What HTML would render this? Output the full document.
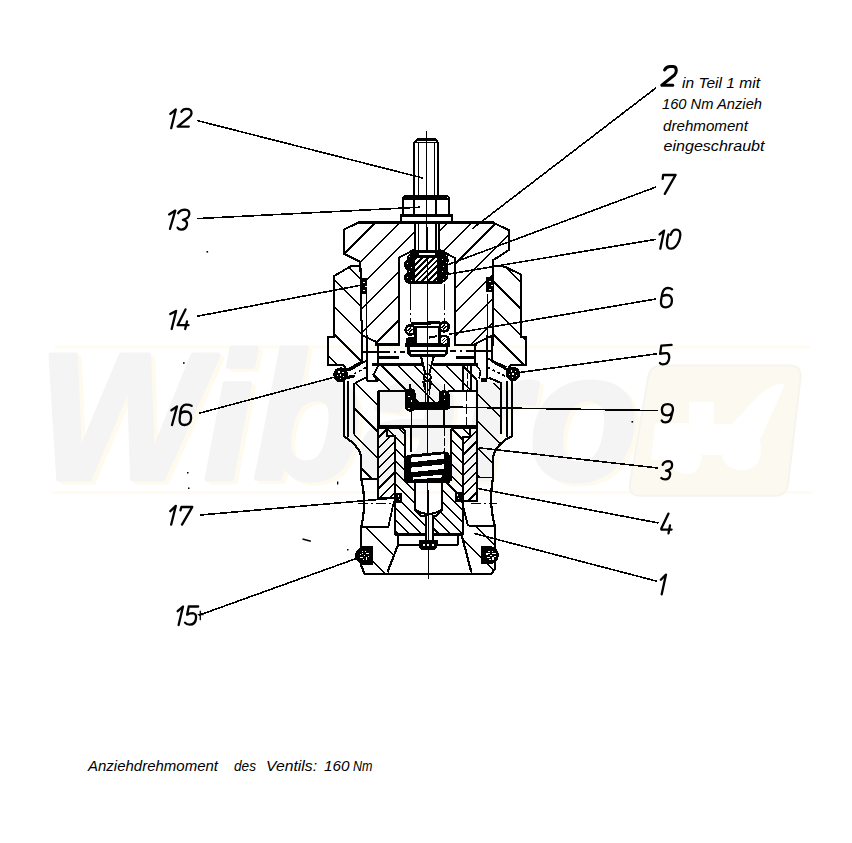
<!DOCTYPE html>
<html><head><meta charset="utf-8"><style>
html,body{margin:0;padding:0;background:#fff;width:852px;height:843px;overflow:hidden}
svg{display:block}
.t{font-family:"Liberation Sans",sans-serif;font-style:italic;fill:#000}
</style></head><body>
<svg width="852" height="843" viewBox="0 0 852 843">
<defs><clipPath id="c1"><path d="M414.9,222.8 L357.9,222.8 L343.6,229.7 L343.6,253.6 L360.4,262.0 L361.8,335.0 L376.2,341.9 L376.2,344.6 L398.9,344.6 L398.9,257.7 L414.9,249.3 Z"/></clipPath>
<clipPath id="c2"><path d="M438.8,222.8 L493.5,222.8 L509.0,230.2 L509.0,250.0 L493.4,260.0 L493.4,335.0 L475.8,343.6 L475.8,344.6 L455.2,344.6 L455.2,258.2 L438.8,249.3 Z"/></clipPath>
<clipPath id="c3"><path d="M360.4,266.2 L350.8,266.2 L334.2,276.0 L334.2,337.2 L327.6,337.2 L327.6,365.4 L343.3,365.4 L347.0,369.8 L362.0,361.5 L362.0,352.0 L361.8,335.0 Z"/></clipPath>
<clipPath id="c4"><path d="M493.4,266.0 L504.5,266.6 L520.6,274.3 L520.6,337.0 L525.6,337.0 L525.6,365.4 L510.6,365.4 L507.0,369.8 L492.0,361.5 L492.0,352.0 L493.4,335.0 Z"/></clipPath>
<clipPath id="c5"><path d="M414.8,257.9 L437.4,257.9 L437.4,281.2 L414.8,281.2 Z"/></clipPath>
<clipPath id="c6"><path d="M373.0,375.5 L379.0,364.6 L477.0,364.6 L477.0,391.0 L448.0,391.0 L438.0,403.0 L416.0,403.0 L406.0,391.0 L378.4,391.0 L378.4,381.4 Z"/></clipPath>
<clipPath id="c7"><path d="M353.8,383.0 L378.4,383.0 L378.4,478.8 L361.3,478.8 L361.3,461.7 L358.5,449.6 L353.8,440.0 Z"/></clipPath>
<clipPath id="c8"><path d="M500.9,383.0 L476.9,383.0 L476.9,477.4 L493.0,477.4 L493.0,461.0 L496.0,449.0 L500.9,442.0 Z"/></clipPath>
<clipPath id="c9"><path d="M378.4,427.7 L386.5,427.7 L386.5,435.6 L394.9,435.6 L394.9,498.3 L378.4,498.3 Z"/></clipPath>
<clipPath id="c10"><path d="M477.1,427.7 L470.2,427.7 L470.2,436.6 L462.5,436.6 L462.5,501.2 L477.1,501.2 Z"/></clipPath>
<clipPath id="c11"><path d="M386.5,427.7 L402.0,427.7 L405.0,431.3 L405.0,480.0 L414.9,480.0 L414.9,509.7 L421.0,516.0 L425.6,516.0 L425.6,534.4 L394.9,534.4 L394.9,435.6 L386.5,435.6 Z"/></clipPath>
<clipPath id="c12"><path d="M470.2,427.7 L453.0,427.7 L450.7,431.0 L450.7,480.0 L442.0,480.0 L442.0,509.7 L436.0,516.0 L432.7,516.0 L432.7,534.4 L462.5,534.4 L462.5,436.6 L470.2,436.6 Z"/></clipPath>
<clipPath id="c13"><path d="M361.3,527.2 L388.4,527.2 L398.0,545.0 L387.4,573.6 L364.5,573.6 L361.3,566.0 Z"/></clipPath>
<clipPath id="c14"><path d="M494.8,526.2 L468.6,526.2 L461.6,535.0 L471.3,573.6 L491.4,573.6 L494.8,569.0 Z"/></clipPath></defs>
<rect width="852" height="843" fill="#fff"/>
<g id="wm">
<rect x="55" y="345.5" width="755" height="3" fill="#FFFBF0"/>
<rect x="52" y="491" width="760" height="3" fill="#FFFBF0"/>
<path d="M662,365.6 H790 Q802,366 800.5,378 L788,484 Q786.5,495.8 774,495.8 H641 Q628.5,495.8 630,484 L648,378 Q650,365.6 662,365.6 Z" fill="#FCF9F0" stroke="#F6F4EE" stroke-width="2"/>
<path d="M689,402 H714 V424 H732 L760,394 Q775,382 785,384 L760,440 Q765,470 742,470 Q725,470 722,455 H702 Q700,474 688,474 Q672,474 670,460 H651 L655,423 H689 Z" fill="#FFFFFF"/>
<text x="42" y="482" textLength="600" lengthAdjust="spacingAndGlyphs" font-family="Liberation Sans" font-weight="bold" font-style="italic" font-size="180" fill="#FFFAEE" stroke="#FFFAEE" stroke-width="5" stroke-linejoin="round">Wibaro</text>
<text x="38" y="479" textLength="600" lengthAdjust="spacingAndGlyphs" font-family="Liberation Sans" font-weight="bold" font-style="italic" font-size="180" fill="#F4F4F4" stroke="#F4F4F4" stroke-width="5" stroke-linejoin="round">Wibaro</text>
</g>
<!-- labels -->

<g class="t" font-size="14">
<text x="682" y="87.6" textLength="78" lengthAdjust="spacingAndGlyphs">in Teil 1 mit</text>
<text x="662" y="108.7" textLength="100" lengthAdjust="spacingAndGlyphs">160 Nm Anzieh</text>
<text x="663" y="131" textLength="85" lengthAdjust="spacingAndGlyphs">drehmoment</text>
<text x="663.5" y="151" textLength="101" lengthAdjust="spacingAndGlyphs">eingeschraubt</text>
<text x="88" y="770.5" textLength="130" lengthAdjust="spacingAndGlyphs">Anziehdrehmoment</text>
<text x="234" y="770.5" textLength="22" lengthAdjust="spacingAndGlyphs">des</text>
<text x="266" y="770.5" textLength="51" lengthAdjust="spacingAndGlyphs">Ventils:</text>
<text x="324" y="770.5" textLength="25.5" lengthAdjust="spacingAndGlyphs">160</text>
<text x="353" y="770.5" textLength="19.5" lengthAdjust="spacingAndGlyphs">Nm</text>
</g>
<!-- leaders -->
<g stroke="#000" fill="none" stroke-width="1.6" shape-rendering="crispEdges">
<path d="M197,120.5 L422.7,178"/>
<path d="M197,218.6 L420.3,207.2"/>
<path d="M197,316.3 L362,285"/>
<path d="M199.3,413.2 L335.4,376.9"/>
<path d="M200.3,515 L395,498"/>
<path d="M199,615.2 L356.6,558.4"/>
<path d="M656.3,87.6 L472.3,228.7"/>
<path d="M656,187 L447,265"/>
<path d="M656,239.3 L449,274"/>
<path d="M656,299 L449,334.2"/><path d="M437,336.2 L429.4,337.6"/>
<path d="M656.9,353.8 L518.7,372.6"/>
<path d="M658,410.6 L415,406.5"/>
<path d="M658,468 L478.7,447.8"/>
<path d="M658.6,523 L476.9,488.3"/>
<path d="M657.2,581.3 L474,533.4"/>
</g>
<g fill="#000">
<rect x="206.5" y="251" width="1.6" height="1.6"/>
<rect x="183" y="362.2" width="1.6" height="1.6"/>
<rect x="187" y="472" width="1.5" height="1.5"/>
<rect x="188" y="487.5" width="1.5" height="1.5"/>
<path d="M302.5,539 L310.8,541.2" stroke="#000" stroke-width="1.4"/>
<rect x="347" y="549" width="1.5" height="1.5"/>
<rect x="337" y="481.5" width="1.3" height="3"/>
<rect x="631.5" y="421" width="1.6" height="1.6"/>
</g>
<g stroke="#000" fill="none" stroke-width="2.3" stroke-linecap="round" stroke-linejoin="round">
<!-- 12 -->
<path d="M170.3,113.8 L175.8,109.4 L171.2,128.2"/>
<path d="M181.4,111.7 Q183,108.8 186.4,108.8 Q191.9,108.8 191.5,113.5 Q191.2,115.5 189.5,117 L177.6,126.6 H188.8"/>
<!-- 13 -->
<path d="M169.1,214.4 L175.3,210.6 L170,228.8"/>
<path d="M178.2,213.2 Q180.5,209.7 185,209.7 Q189.6,209.9 189.3,214 Q189,218.5 182.9,219.8 Q187.5,220.5 187,224.5 Q186.2,229.6 181.1,229.6 Q178.7,229.6 177.6,227.6"/>
<!-- 14 -->
<path d="M170.3,314.1 L176.1,310.9 L171.7,329"/>
<path d="M185.5,309.4 L177.6,325.2 H188.5 M187,321.4 L185.2,329"/>
<!-- 16 -->
<path d="M171.4,410.3 L177,406.5 L172,425"/>
<path d="M191.7,405.9 Q189.5,404.5 185.8,404.7 Q181.5,405.5 180.6,411 L179.6,419 Q179.2,425 184.6,425 Q190.5,424.6 191.1,418.5 Q191.6,411.5 185,411.5 Q182,411.7 180.5,413.8"/>
<!-- 17 -->
<path d="M170.3,511.2 L175.8,505.9 L171.2,524.6"/>
<path d="M180.5,510.3 L181.4,507 H192.3 L182,524.6"/>
<!-- 15 -->
<path d="M177.7,611.2 L183,606.5 L178.6,625"/>
<path d="M198.2,606.5 H188.8 L187.1,614.7 Q189.5,613.2 192.6,613.2 Q196.6,613.6 196,618.5 Q195.3,624.6 189.8,624.6 Q186.5,624.6 185,622.6"/>
<path d="M200.3,611.2 V619.7 M198.2,614.7 H203.2" stroke-width="1.3"/>
<!-- 2 -->
<path d="M664.6,69.9 Q666.5,66.6 670,66.6 H673.3 Q676.3,66.8 676.3,70.8 Q676.3,73 674.5,75 L661.8,85.2 H672.8" stroke-width="3.0"/>
<!-- 7 -->
<path d="M662.7,178.9 L663.1,175 H675.6 L664.8,193.9"/>
<!-- 10 -->
<path d="M659.6,234.4 L664.1,230.6 L660.3,248.7"/>
<path d="M670.7,234.9 Q672.5,229.6 676.1,229.7 Q680.6,229.9 680.3,235 Q679.7,242 675.5,246.5 Q673.6,248.7 671.4,248.7 Q666.7,248.7 666.9,243.8 Q667,239 668.5,234.4"/>
<!-- 6 -->
<path d="M672.1,289.3 Q670.6,287.9 667.8,287.9 Q663.6,288.2 662.3,293.5 L661,300.8 Q660.3,307.4 665.8,307.4 Q671.8,307 671.9,300.8 Q672,295 666.9,295 Q664.8,295 663.6,295.8"/>
<!-- 5 -->
<path d="M671.6,344.9 L661.3,345.6 L660.1,353.8 Q663,353 667,353.1 Q669.5,353.8 669.2,358 Q668.6,364.4 662.7,364.4 Q660.7,364.4 659.9,363"/>
<!-- 9 -->
<path d="M673,410 Q673.2,404.1 667.6,404.1 Q662.3,404.1 661.9,409.5 Q661.9,415.4 667.3,415.4 Q671.5,415.4 673,410 L670.8,418.5 Q669.2,422.4 665.2,422.4 Q662.6,422.4 661.7,420.5"/>
<!-- 3 -->
<path d="M662.7,464.9 Q663.9,461.1 668.8,461.1 Q672.2,461.3 672.1,465.5 Q671.9,469.4 666,470.6 Q670.4,471 670.2,474.2 Q669.8,479.4 665,479.4 Q662.6,479.4 661.3,478"/>
<!-- 4 -->
<path d="M668.5,513.6 L661.3,528.5 V529.6 H671.6 M670,525.4 L668.5,533.4"/>
<!-- 1 -->
<path d="M660.8,579.7 L666,574.6 L661.7,594.3"/>
</g>

<g stroke-linecap="butt" shape-rendering="crispEdges">
<line x1="426.6" y1="131.5" x2="428.3" y2="579" stroke="#000" stroke-width="1.1" />
<path d="M414.3,195.5 V142.4 L418,138.6 H435 L437.9,142.4 V195.5" stroke="#000" stroke-width="2.0" fill="none" />
<rect x="417" y="137.8" width="19" height="3.2" fill="#000"/>
<line x1="416" y1="142.6" x2="436.5" y2="142.6" stroke="#000" stroke-width="1.2" />
<line x1="418.5" y1="142.6" x2="418.5" y2="195" stroke="#000" stroke-width="1.2" />
<line x1="434.8" y1="142.6" x2="434.8" y2="195" stroke="#000" stroke-width="1.2" />
<path d="M402.6,215 V199.8 Q402.6,196 406.6,195.6 H445.4 Q449.4,196 449.4,199.8 V215" stroke="#000" stroke-width="2.0" fill="none" />
<path d="M402.6,199.8 L406.4,195.2 H445.6 L449.4,199.8 Z" fill="#000"/>
<line x1="414.3" y1="197" x2="414.3" y2="215" stroke="#000" stroke-width="2.0" />
<line x1="435.8" y1="197" x2="435.8" y2="215" stroke="#000" stroke-width="2.0" />
<path d="M401.2,222 V215 H452.2 V222" stroke="#000" stroke-width="2.0" fill="none" />
<line x1="400.2" y1="215.4" x2="453" y2="215.4" stroke="#000" stroke-width="2.6" />
<line x1="357.9" y1="222.6" x2="493.5" y2="222.6" stroke="#000" stroke-width="3.0" />
<path clip-path="url(#c1)" d="M304.6,220.8 L178.8,346.6 M328.8,220.8 L203.0,346.6 M353.0,220.8 L227.2,346.6 M377.2,220.8 L251.4,346.6 M401.4,220.8 L275.6,346.6 M425.6,220.8 L299.8,346.6 M449.8,220.8 L324.0,346.6 M474.0,220.8 L348.2,346.6 M498.2,220.8 L372.4,346.6 M522.4,220.8 L396.6,346.6 M546.6,220.8 L420.8,346.6 M570.8,220.8 L445.0,346.6" stroke="#000" stroke-width="1.5" fill="none"/>
<path clip-path="url(#c2)" d="M401.4,220.8 L275.6,346.6 M425.6,220.8 L299.8,346.6 M449.8,220.8 L324.0,346.6 M474.0,220.8 L348.2,346.6 M498.2,220.8 L372.4,346.6 M522.4,220.8 L396.6,346.6 M546.6,220.8 L420.8,346.6 M570.8,220.8 L445.0,346.6 M595.0,220.8 L469.2,346.6 M619.2,220.8 L493.4,346.6 M643.4,220.8 L517.6,346.6 M667.6,220.8 L541.8,346.6" stroke="#000" stroke-width="1.5" fill="none"/>
<path d="M414.9,222.8 L357.9,222.8 L343.6,229.7 L343.6,253.6 L360.4,262.0 L361.8,335.0 L376.2,341.9 L376.2,344.6 L398.9,344.6 L398.9,257.7 L414.9,249.3 Z" stroke="#000" stroke-width="2.0" fill="none" />
<path d="M438.8,222.8 L493.5,222.8 L509.0,230.2 L509.0,250.0 L493.4,260.0 L493.4,335.0 L475.8,343.6 L475.8,344.6 L455.2,344.6 L455.2,258.2 L438.8,249.3 Z" stroke="#000" stroke-width="2.0" fill="none" />
<line x1="414.9" y1="222" x2="414.9" y2="250" stroke="#000" stroke-width="2.0" />
<line x1="438.8" y1="222" x2="438.8" y2="250" stroke="#000" stroke-width="2.0" />
<line x1="418.2" y1="222" x2="418.2" y2="250" stroke="#000" stroke-width="1.1" />
<line x1="436" y1="222" x2="436" y2="250" stroke="#000" stroke-width="1.1" />
<line x1="398.9" y1="344.6" x2="376" y2="344.6" stroke="#000" stroke-width="2.6" />
<line x1="455.2" y1="344.8" x2="476" y2="344.8" stroke="#000" stroke-width="2.6" />
<path clip-path="url(#c3)" d="M182.6,264.2 L290.2,371.8 M209.8,264.2 L317.4,371.8 M237.0,264.2 L344.6,371.8 M264.2,264.2 L371.8,371.8 M291.4,264.2 L399.0,371.8 M318.6,264.2 L426.2,371.8 M345.8,264.2 L453.4,371.8 M373.0,264.2 L480.6,371.8 M400.2,264.2 L507.8,371.8" stroke="#000" stroke-width="1.5" fill="none"/>
<path clip-path="url(#c4)" d="M343.5,264.0 L451.3,371.8 M370.0,264.0 L477.8,371.8 M396.5,264.0 L504.3,371.8 M423.0,264.0 L530.8,371.8 M449.5,264.0 L557.3,371.8 M476.0,264.0 L583.8,371.8 M502.5,264.0 L610.3,371.8 M529.0,264.0 L636.8,371.8 M555.5,264.0 L663.3,371.8" stroke="#000" stroke-width="1.5" fill="none"/>
<path d="M360.4,266.2 L350.8,266.2 L334.2,276.0 L334.2,337.2 L327.6,337.2 L327.6,365.4 L343.3,365.4 L347.0,369.8 L362.0,361.5 L362.0,352.0 L361.8,335.0 Z" stroke="#000" stroke-width="2.0" fill="none" />
<path d="M493.4,266.0 L504.5,266.6 L520.6,274.3 L520.6,337.0 L525.6,337.0 L525.6,365.4 L510.6,365.4 L507.0,369.8 L492.0,361.5 L492.0,352.0 L493.4,335.0 Z" stroke="#000" stroke-width="2.0" fill="none" />
<line x1="366.3" y1="294" x2="366.3" y2="352" stroke="#000" stroke-width="1.1" />
<line x1="487.8" y1="294" x2="487.8" y2="352" stroke="#000" stroke-width="1.1" />
<line x1="362" y1="335" x2="362" y2="352" stroke="#000" stroke-width="1.8" />
<line x1="492" y1="335" x2="492" y2="352" stroke="#000" stroke-width="1.8" />
<rect x="359.8" y="278" width="7.4" height="16.4" fill="#000"/>
<rect x="486" y="276.8" width="8.4" height="15.6" fill="#000"/>
<rect x="362.5" y="281.5" width="2" height="1.6" fill="#fff"/>
<rect x="364.5" y="285.5" width="2" height="1.6" fill="#fff"/>
<rect x="362.5" y="289.5" width="2" height="1.6" fill="#fff"/>
<rect x="489" y="280.5" width="2" height="1.6" fill="#fff"/>
<rect x="491" y="284.5" width="2" height="1.6" fill="#fff"/>
<rect x="489" y="288.5" width="2" height="1.6" fill="#fff"/>
<path d="M407,257 L413.6,250.2 H443.9 L448,255.5 V279 L441,284.4 H411 Q406.5,284 406.5,278 Z" fill="#000"/>
<circle cx="409.7" cy="265" r="5.8" fill="#000"/>
<circle cx="409.7" cy="278" r="5.8" fill="#000"/>
<circle cx="443.8" cy="260.8" r="5" fill="#000"/>
<circle cx="443.8" cy="273.2" r="5" fill="#000"/>
<rect x="418.7" y="253" width="16.2" height="1.8" fill="#fff"/>
<rect x="414.8" y="257.9" width="22.6" height="23.3" fill="#fff"/>
<path clip-path="url(#c5)" d="M406.8,255.9 L379.5,283.2 M412.6,255.9 L385.3,283.2 M418.4,255.9 L391.1,283.2 M424.2,255.9 L396.9,283.2 M430.0,255.9 L402.7,283.2 M435.8,255.9 L408.5,283.2 M441.6,255.9 L414.3,283.2 M447.4,255.9 L420.1,283.2 M453.2,255.9 L425.9,283.2 M459.0,255.9 L431.7,283.2 M464.8,255.9 L437.5,283.2 M470.6,255.9 L443.3,283.2 M476.4,255.9 L449.1,283.2" stroke="#000" stroke-width="2.1" fill="none"/>
<line x1="427.5" y1="256" x2="427.5" y2="282" stroke="#000" stroke-width="1.6" />
<rect x="407" y="263" width="1.3" height="1.3" fill="#fff"/>
<rect x="411" y="267" width="1.3" height="1.3" fill="#fff"/>
<rect x="408.5" y="270.5" width="1.3" height="1.3" fill="#fff"/>
<rect x="407" y="276.5" width="1.3" height="1.3" fill="#fff"/>
<rect x="411" y="280" width="1.3" height="1.3" fill="#fff"/>
<rect x="442" y="258.5" width="1.3" height="1.3" fill="#fff"/>
<rect x="446" y="262" width="1.3" height="1.3" fill="#fff"/>
<rect x="442.5" y="266" width="1.3" height="1.3" fill="#fff"/>
<rect x="442" y="271" width="1.3" height="1.3" fill="#fff"/>
<rect x="446" y="275" width="1.3" height="1.3" fill="#fff"/>
<rect x="442.5" y="279" width="1.3" height="1.3" fill="#fff"/>
<rect x="409" y="255.5" width="1.3" height="1.3" fill="#fff"/>
<rect x="446" y="254.8" width="1.3" height="1.3" fill="#fff"/>
<line x1="398.9" y1="257.7" x2="398.9" y2="345" stroke="#000" stroke-width="2.0" />
<line x1="455.2" y1="258.2" x2="455.2" y2="345" stroke="#000" stroke-width="2.0" />
<line x1="410.2" y1="284" x2="410.2" y2="322" stroke="#000" stroke-width="1.1" stroke-dasharray="26,3,2,3"/>
<line x1="444.5" y1="284" x2="444.5" y2="322" stroke="#000" stroke-width="1.1" stroke-dasharray="26,3,2,3"/>
<path d="M411,324 L440,322.4" stroke="#000" stroke-width="3.2"/>
<rect x="415.6" y="327" width="24" height="18" fill="none" stroke="#000" stroke-width="2.6"/>
<rect x="405" y="343.4" width="44.6" height="3.8" fill="#000"/>
<path d="M405.6,338 Q405,347 411,347 H416 V337 Z" fill="#000"/>
<circle cx="410.4" cy="341.8" r="4.8" fill="#000"/>
<circle cx="410.2" cy="330" r="4.6" stroke="#000" stroke-width="2.6" fill="#fff"/>
<path d="M407.7,331 L411.2,327.5 M409.2,332.5 L412.7,329" stroke="#000" stroke-width="1.1"/>
<circle cx="444.2" cy="326.8" r="4.6" stroke="#000" stroke-width="2.6" fill="#fff"/>
<path d="M441.7,327.8 L445.2,324.3 M443.2,329.3 L446.7,325.8" stroke="#000" stroke-width="1.1"/>
<circle cx="444.2" cy="340.4" r="4.6" stroke="#000" stroke-width="2.6" fill="#fff"/>
<path d="M441.7,341.4 L445.2,337.9 M443.2,342.9 L446.7,339.4" stroke="#000" stroke-width="1.1"/>
<path d="M429,337.6 L437,336.2" stroke="#000" stroke-width="2"/>
<path d="M407.2,345 H448.3 V353.5 L445.3,356.6 H410.2 L407.2,353.5 Z" fill="#000"/>
<rect x="409.6" y="347.3" width="36.4" height="2.4" fill="#fff"/>
<rect x="410.6" y="352.3" width="34.4" height="1.5" fill="#fff"/>
<line x1="427.3" y1="345" x2="427.3" y2="356" stroke="#000" stroke-width="1.2" />
<path d="M421,356.3 L425.4,374 M433.8,356.3 L429.2,374" stroke="#000" stroke-width="2.0" fill="none" />
<circle cx="427.3" cy="377.4" r="3.6" stroke="#000" stroke-width="2.0" fill="none"/>
<path d="M423,381 L425.6,391 M431.6,381 L429,391" stroke="#000" stroke-width="1.8" fill="none" />
<line x1="377" y1="357.6" x2="399" y2="357.6" stroke="#000" stroke-width="2.4" />
<line x1="455.5" y1="357.6" x2="475.5" y2="357.6" stroke="#000" stroke-width="2.4" />
<line x1="384" y1="352" x2="405" y2="352" stroke="#000" stroke-width="2.0" stroke-dasharray="6,4,2,4"/>
<line x1="450" y1="351.2" x2="470" y2="351.2" stroke="#000" stroke-width="2.0" stroke-dasharray="6,4,2,4"/>
<line x1="377.6" y1="343" x2="377.6" y2="365" stroke="#000" stroke-width="2.0" />
<line x1="475.4" y1="343" x2="475.4" y2="365" stroke="#000" stroke-width="2.0" />
<path clip-path="url(#c6)" d="M297.6,362.6 L340.0,405.0 M313.8,362.6 L356.2,405.0 M330.0,362.6 L372.4,405.0 M346.2,362.6 L388.6,405.0 M362.4,362.6 L404.8,405.0 M378.6,362.6 L421.0,405.0 M394.8,362.6 L437.2,405.0 M411.0,362.6 L453.4,405.0 M427.2,362.6 L469.6,405.0 M443.4,362.6 L485.8,405.0 M459.6,362.6 L502.0,405.0 M475.8,362.6 L518.2,405.0 M492.0,362.6 L534.4,405.0 M508.2,362.6 L550.6,405.0" stroke="#000" stroke-width="1.5" fill="none"/>
<line x1="372" y1="364.2" x2="421.5" y2="364.2" stroke="#000" stroke-width="2.6" />
<line x1="433.2" y1="364.2" x2="478" y2="364.2" stroke="#000" stroke-width="2.6" />
<path d="M373,375.5 L379,364.6 M373,375.5 L378.4,381.4" stroke="#000" stroke-width="1.8" fill="none" />
<line x1="378.4" y1="390.8" x2="406" y2="390.8" stroke="#000" stroke-width="2.6" />
<line x1="448" y1="390.8" x2="477" y2="390.8" stroke="#000" stroke-width="2.6" />
<path d="M406,391 L416,403 M448,391 L438,403" stroke="#000" stroke-width="1.8" fill="none" />
<path d="M424.8,378 L426,404 M429.8,378 L428.6,404" stroke="#000" stroke-width="1.0" fill="none" />
<line x1="463" y1="365" x2="463" y2="391" stroke="#000" stroke-width="1.6" />
<line x1="471" y1="365" x2="471" y2="391" stroke="#000" stroke-width="1.6" />
<line x1="467.5" y1="365" x2="467.5" y2="391" stroke="#000" stroke-width="1.0" stroke-dasharray="6,2"/>
<line x1="466.2" y1="391" x2="466.2" y2="426" stroke="#000" stroke-width="1.0" stroke-dasharray="10,3"/>
<path d="M476.3,365.7 Q483,370 479,378.5" stroke="#000" stroke-width="1.6" fill="none" />
<rect x="480.6" y="378.5" width="6.4" height="3.2" fill="#000"/>
<rect x="405.2" y="388.4" width="10.3" height="23.2" rx="4.5" fill="#000"/>
<rect x="438.7" y="390.3" width="11" height="20" rx="4.5" fill="#000"/>
<rect x="405.2" y="402" width="44.5" height="8.4" rx="3" fill="#000"/>
<line x1="415" y1="407.1" x2="438" y2="407.1" stroke="#000" stroke-width="1.2" stroke="#fff"/>
<rect x="408.4" y="395.7" width="1.4" height="1.4" fill="#fff"/>
<rect x="411" y="400.3" width="1.4" height="1.4" fill="#fff"/>
<rect x="408.4" y="407.5" width="1.4" height="1.4" fill="#fff"/>
<rect x="443.5" y="393.3" width="1.4" height="1.4" fill="#fff"/>
<rect x="443.5" y="398.5" width="1.4" height="1.4" fill="#fff"/>
<rect x="447.5" y="409" width="1.4" height="1.4" fill="#fff"/>
<line x1="410" y1="384" x2="410" y2="389" stroke="#000" stroke-width="1.4" />
<line x1="444.6" y1="384" x2="444.6" y2="390" stroke="#000" stroke-width="1.4" />
<line x1="378.4" y1="390.8" x2="378.4" y2="427" stroke="#000" stroke-width="2.4" />
<line x1="476.9" y1="379.5" x2="476.9" y2="502" stroke="#000" stroke-width="2.2" />
<rect x="377.4" y="424.6" width="100.6" height="3.4" fill="#000"/>
<line x1="411.5" y1="409" x2="411.5" y2="427" stroke="#000" stroke-width="1.6" />
<line x1="443.9" y1="409" x2="443.9" y2="427" stroke="#000" stroke-width="1.6" />
<path d="M344.2,380 V436.6 Q352.8,441.5 358.5,449.6 Q361.3,454 361.3,461.7 V478.8 Q367,503 361.3,527.2 V566 L364.5,573.6 H491.4 L494.8,569 V526.2 Q488.5,503 493,477.4 V461 Q493,454 496,449 Q502.5,440.5 512,436.1 V380" stroke="#000" stroke-width="2.2" fill="none" />
<line x1="348" y1="381" x2="348" y2="437" stroke="#000" stroke-width="1.3" />
<line x1="353.8" y1="383" x2="353.8" y2="433.5" stroke="#000" stroke-width="2.0" />
<line x1="506.9" y1="381" x2="506.9" y2="437" stroke="#000" stroke-width="1.6" />
<line x1="500.9" y1="383" x2="500.9" y2="433.5" stroke="#000" stroke-width="2.0" />
<line x1="361.3" y1="478.8" x2="378.4" y2="478.8" stroke="#000" stroke-width="1.8" />
<line x1="476.9" y1="477.4" x2="493" y2="477.4" stroke="#000" stroke-width="1.8" />
<line x1="361.3" y1="527.2" x2="388.8" y2="527.2" stroke="#000" stroke-width="2.4" />
<line x1="468.6" y1="526.2" x2="494.8" y2="526.2" stroke="#000" stroke-width="2.4" />
<path clip-path="url(#c7)" d="M221.0,381.0 L320.8,480.8 M247.5,381.0 L347.3,480.8 M274.0,381.0 L373.8,480.8 M300.5,381.0 L400.3,480.8 M327.0,381.0 L426.8,480.8 M353.5,381.0 L453.3,480.8 M380.0,381.0 L479.8,480.8 M406.5,381.0 L506.3,480.8 M433.0,381.0 L532.8,480.8" stroke="#000" stroke-width="1.5" fill="none"/>
<path clip-path="url(#c8)" d="M329.8,381.0 L428.2,479.4 M356.8,381.0 L455.2,479.4 M383.8,381.0 L482.2,479.4 M410.8,381.0 L509.2,479.4 M437.8,381.0 L536.2,479.4 M464.8,381.0 L563.2,479.4 M491.8,381.0 L590.2,479.4 M518.8,381.0 L617.2,479.4 M545.8,381.0 L644.2,479.4" stroke="#000" stroke-width="1.5" fill="none"/>
<path d="M348.5,371 L366.3,360.7 M355,383.2 L366.3,377.6" stroke="#000" stroke-width="1.8" fill="none" />
<path d="M506.3,367.3 L487,358.2 M501.6,383.2 L488.5,377.6" stroke="#000" stroke-width="2.0" fill="none" />
<line x1="349" y1="376.5" x2="366" y2="367.5" stroke="#000" stroke-width="1.5" stroke-dasharray="3,2.5"/>
<line x1="505" y1="376" x2="488" y2="367.5" stroke="#000" stroke-width="1.5" stroke-dasharray="3,2.5"/>
<line x1="347" y1="378" x2="355" y2="376" stroke="#000" stroke-width="2.4" />
<line x1="362.4" y1="335" x2="362.4" y2="352" stroke="#000" stroke-width="2.0" />
<line x1="362.4" y1="352" x2="384" y2="352" stroke="#000" stroke-width="2.2" />
<line x1="367" y1="335" x2="367" y2="381.3" stroke="#000" stroke-width="2.0" />
<line x1="367" y1="381.3" x2="378" y2="381.3" stroke="#000" stroke-width="1.8" />
<line x1="491.2" y1="335" x2="491.2" y2="351" stroke="#000" stroke-width="1.3" />
<line x1="470" y1="351.2" x2="492" y2="351.2" stroke="#000" stroke-width="2.2" />
<line x1="487.4" y1="335" x2="487.4" y2="378.5" stroke="#000" stroke-width="2.0" />
<line x1="480.6" y1="378.5" x2="487.4" y2="378.5" stroke="#000" stroke-width="1.8" />
<circle cx="340.7" cy="374.8" r="7.5" fill="#000"/>
<rect x="343.2" y="375.5" width="1.2" height="1.2" fill="#fff"/>
<rect x="339.8" y="377.6" width="1.2" height="1.2" fill="#fff"/>
<rect x="336.8" y="375.0" width="1.2" height="1.2" fill="#fff"/>
<rect x="338.3" y="371.3" width="1.2" height="1.2" fill="#fff"/>
<rect x="342.3" y="371.6" width="1.2" height="1.2" fill="#fff"/>
<rect x="340.1" y="374.2" width="1.3" height="1.3" fill="#fff"/>
<circle cx="513.0" cy="373.9" r="7.2" fill="#000"/>
<rect x="515.5" y="374.6" width="1.2" height="1.2" fill="#fff"/>
<rect x="512.1" y="376.7" width="1.2" height="1.2" fill="#fff"/>
<rect x="509.1" y="374.1" width="1.2" height="1.2" fill="#fff"/>
<rect x="510.6" y="370.4" width="1.2" height="1.2" fill="#fff"/>
<rect x="514.6" y="370.7" width="1.2" height="1.2" fill="#fff"/>
<rect x="512.4" y="373.3" width="1.3" height="1.3" fill="#fff"/>
<path clip-path="url(#c9)" d="M359.7,425.7 L285.1,500.3 M369.9,425.7 L295.3,500.3 M380.1,425.7 L305.5,500.3 M390.3,425.7 L315.7,500.3 M400.5,425.7 L325.9,500.3 M410.7,425.7 L336.1,500.3 M420.9,425.7 L346.3,500.3 M431.1,425.7 L356.5,500.3 M441.3,425.7 L366.7,500.3 M451.5,425.7 L376.9,500.3 M461.7,425.7 L387.1,500.3 M471.9,425.7 L397.3,500.3 M482.1,425.7 L407.5,500.3" stroke="#000" stroke-width="1.5" fill="none"/>
<path clip-path="url(#c10)" d="M441.3,425.7 L363.8,503.2 M451.5,425.7 L374.0,503.2 M461.7,425.7 L384.2,503.2 M471.9,425.7 L394.4,503.2 M482.1,425.7 L404.6,503.2 M492.3,425.7 L414.8,503.2 M502.5,425.7 L425.0,503.2 M512.7,425.7 L435.2,503.2 M522.9,425.7 L445.4,503.2 M533.1,425.7 L455.6,503.2 M543.3,425.7 L465.8,503.2 M553.5,425.7 L476.0,503.2 M563.7,425.7 L486.2,503.2 M573.9,425.7 L496.4,503.2" stroke="#000" stroke-width="1.5" fill="none"/>
<path d="M378.4,427.7 L386.5,427.7 L386.5,435.6 L394.9,435.6 L394.9,498.3 L378.4,498.3 Z" stroke="#000" stroke-width="2.0" fill="none" />
<path d="M477.1,427.7 L470.2,427.7 L470.2,436.6 L462.5,436.6 L462.5,501.2 L477.1,501.2 Z" stroke="#000" stroke-width="2.0" fill="none" />
<path clip-path="url(#c11)" d="M254.4,425.7 L365.1,536.4 M266.2,425.7 L376.9,536.4 M278.0,425.7 L388.7,536.4 M289.8,425.7 L400.5,536.4 M301.6,425.7 L412.3,536.4 M313.4,425.7 L424.1,536.4 M325.2,425.7 L435.9,536.4 M337.0,425.7 L447.7,536.4 M348.8,425.7 L459.5,536.4 M360.6,425.7 L471.3,536.4 M372.4,425.7 L483.1,536.4 M384.2,425.7 L494.9,536.4 M396.0,425.7 L506.7,536.4 M407.8,425.7 L518.5,536.4 M419.6,425.7 L530.3,536.4 M431.4,425.7 L542.1,536.4 M443.2,425.7 L553.9,536.4" stroke="#000" stroke-width="1.5" fill="none"/>
<path clip-path="url(#c12)" d="M307.1,425.7 L417.8,536.4 M318.9,425.7 L429.6,536.4 M330.7,425.7 L441.4,536.4 M342.5,425.7 L453.2,536.4 M354.3,425.7 L465.0,536.4 M366.1,425.7 L476.8,536.4 M377.9,425.7 L488.6,536.4 M389.7,425.7 L500.4,536.4 M401.5,425.7 L512.2,536.4 M413.3,425.7 L524.0,536.4 M425.1,425.7 L535.8,536.4 M436.9,425.7 L547.6,536.4 M448.7,425.7 L559.4,536.4 M460.5,425.7 L571.2,536.4 M472.3,425.7 L583.0,536.4 M484.1,425.7 L594.8,536.4" stroke="#000" stroke-width="1.5" fill="none"/>
<path d="M386.5,427.7 L402.0,427.7 L405.0,431.3 L405.0,480.0 L414.9,480.0 L414.9,509.7 L421.0,516.0 L425.6,516.0 L425.6,534.4 L394.9,534.4 L394.9,435.6 L386.5,435.6 Z" stroke="#000" stroke-width="2.0" fill="none" />
<path d="M470.2,427.7 L453.0,427.7 L450.7,431.0 L450.7,480.0 L442.0,480.0 L442.0,509.7 L436.0,516.0 L432.7,516.0 L432.7,534.4 L462.5,534.4 L462.5,436.6 L470.2,436.6 Z" stroke="#000" stroke-width="2.0" fill="none" />
<rect x="395.6" y="492.6" width="6.4" height="10" fill="#000"/>
<rect x="398.1" y="495.1" width="1" height="1.6" fill="#fff"/>
<rect x="399.1" y="498.6" width="1" height="1.6" fill="#fff"/>
<rect x="454.7" y="491.7" width="7.3" height="10" fill="#000"/>
<rect x="457.2" y="494.2" width="1" height="1.6" fill="#fff"/>
<rect x="458.2" y="497.7" width="1" height="1.6" fill="#fff"/>
<path d="M405.5,459 Q405.5,454.7 410,454.6 L444,451.4 Q449.7,451.4 449.7,456 V482.6 H405.5 Z" fill="#000"/>
<path d="M411,457.6 L444,454.2 V458.8 L411,462.2 Z" fill="#fff"/>
<path d="M411,467.6 L444,464.3 V468.9 L411,472.2 Z" fill="#fff"/>
<path d="M413,477.2 L442,474.8 V477.4 L413,479.6 Z" fill="#fff"/>
<line x1="411" y1="428" x2="411" y2="452" stroke="#000" stroke-width="1.2" />
<line x1="444.4" y1="428" x2="444.4" y2="452" stroke="#000" stroke-width="1.2" stroke-dasharray="8,2"/>
<path d="M414.9,482 V509.7 Q428.5,518 442,509.7 V482" stroke="#000" stroke-width="2.2" fill="none" />
<path d="M425.6,516 V540 M432.7,516 V540" stroke="#000" stroke-width="1.8" fill="none" />
<path d="M418.5,539.6 H437.7 V545 Q437.7,550.4 431,550.4 H425 Q418.5,550.4 418.5,545 Z" fill="#000"/>
<rect x="422.70000000000005" y="544" width="1.8" height="2.4" fill="#fff"/>
<rect x="427.20000000000005" y="544" width="1.8" height="2.4" fill="#fff"/>
<rect x="431.70000000000005" y="544" width="1.8" height="2.4" fill="#fff"/>
<line x1="395.2" y1="534.4" x2="425.6" y2="534.4" stroke="#000" stroke-width="2.2" />
<line x1="398" y1="545.3" x2="418.5" y2="545.3" stroke="#000" stroke-width="2.2" />
<line x1="432.7" y1="534.4" x2="462" y2="534.4" stroke="#000" stroke-width="2.2" />
<line x1="437.7" y1="545.3" x2="458" y2="545.3" stroke="#000" stroke-width="2.2" />
<line x1="398" y1="534.4" x2="398" y2="545.3" stroke="#000" stroke-width="1.8" />
<line x1="458" y1="534.4" x2="458" y2="545.3" stroke="#000" stroke-width="1.8" />
<path d="M398,545 L387.4,572.4 M461.6,535 L471.3,572" stroke="#000" stroke-width="2.2" fill="none" />
<path d="M395.2,498.3 L392.8,506 L388.4,527.2" stroke="#000" stroke-width="1.8" fill="none" />
<path d="M462,501.2 L468,526.2" stroke="#000" stroke-width="1.8" fill="none" />
<line x1="358" y1="503.3" x2="393" y2="503.3" stroke="#000" stroke-width="1.0" stroke-dasharray="10,3,2,3"/>
<line x1="470.8" y1="503.3" x2="496.7" y2="503.3" stroke="#000" stroke-width="1.0" stroke-dasharray="10,3,2,3"/>
<path clip-path="url(#c13)" d="M255.6,525.2 L306.0,575.6 M282.6,525.2 L333.0,575.6 M309.6,525.2 L360.0,575.6 M336.6,525.2 L387.0,575.6 M363.6,525.2 L414.0,575.6 M390.6,525.2 L441.0,575.6 M417.6,525.2 L468.0,575.6 M444.6,525.2 L495.0,575.6" stroke="#000" stroke-width="1.5" fill="none"/>
<path clip-path="url(#c14)" d="M371.6,524.2 L423.0,575.6 M397.1,524.2 L448.5,575.6 M422.6,524.2 L474.0,575.6 M448.1,524.2 L499.5,575.6 M473.6,524.2 L525.0,575.6 M499.1,524.2 L550.5,575.6 M524.6,524.2 L576.0,575.6" stroke="#000" stroke-width="1.5" fill="none"/>
<path d="M362,546.3 H372.8 V564.6 H362 Q355.2,561.5 355.2,555.4 Q355.2,549.5 362,546.3 Z" fill="#000"/>
<rect x="367.7" y="555.9" width="1.5" height="1.3" fill="#fff"/>
<rect x="365.7" y="558.4" width="1.5" height="1.3" fill="#fff"/>
<rect x="362.5" y="558.7" width="1.5" height="1.3" fill="#fff"/>
<rect x="360.0" y="556.7" width="1.5" height="1.3" fill="#fff"/>
<rect x="359.7" y="553.5" width="1.5" height="1.3" fill="#fff"/>
<rect x="361.7" y="551.0" width="1.5" height="1.3" fill="#fff"/>
<rect x="364.9" y="550.7" width="1.5" height="1.3" fill="#fff"/>
<rect x="367.4" y="552.7" width="1.5" height="1.3" fill="#fff"/>
<rect x="363.7" y="554.7" width="1.4" height="1.4" fill="#fff"/>
<rect x="361.7" y="556.7" width="1.4" height="1.4" fill="#fff"/>
<rect x="365.7" y="552.7" width="1.4" height="1.4" fill="#fff"/>
<rect x="361.7" y="552.7" width="1.4" height="1.4" fill="#fff"/>
<rect x="365.7" y="556.7" width="1.4" height="1.4" fill="#fff"/>
<path d="M481.4,546.4 H492 Q498.8,549 498.8,555.3 Q498.8,562 492,564.2 H481.4 Z" fill="#000"/>
<rect x="494.3" y="555.8" width="1.5" height="1.3" fill="#fff"/>
<rect x="492.3" y="558.3" width="1.5" height="1.3" fill="#fff"/>
<rect x="489.1" y="558.6" width="1.5" height="1.3" fill="#fff"/>
<rect x="486.6" y="556.6" width="1.5" height="1.3" fill="#fff"/>
<rect x="486.3" y="553.4" width="1.5" height="1.3" fill="#fff"/>
<rect x="488.3" y="550.9" width="1.5" height="1.3" fill="#fff"/>
<rect x="491.5" y="550.6" width="1.5" height="1.3" fill="#fff"/>
<rect x="494.0" y="552.6" width="1.5" height="1.3" fill="#fff"/>
<rect x="490.3" y="554.6" width="1.4" height="1.4" fill="#fff"/>
<rect x="488.3" y="556.6" width="1.4" height="1.4" fill="#fff"/>
<rect x="492.3" y="552.6" width="1.4" height="1.4" fill="#fff"/>
<rect x="488.3" y="552.6" width="1.4" height="1.4" fill="#fff"/>
<rect x="492.3" y="556.6" width="1.4" height="1.4" fill="#fff"/>
</g>
</svg>
</body></html>
